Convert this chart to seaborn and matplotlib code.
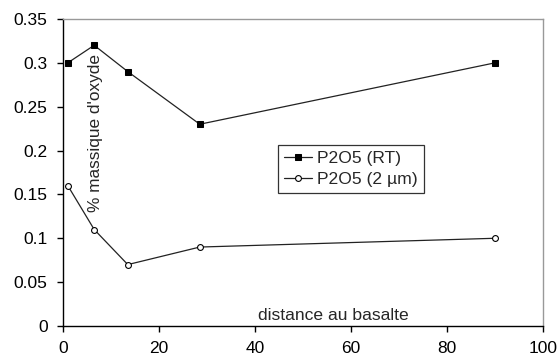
import matplotlib
matplotlib.use("Agg")
import matplotlib.pyplot as plt
import seaborn as sns
import pandas as pd

# distances and oxide values
distance = [1, 6.5, 13.5, 28.5, 90]
p2o5_rt = [0.30, 0.32, 0.29, 0.23, 0.30]
p2o5_2um = [0.16, 0.11, 0.07, 0.09, 0.10]
series_names = ["P2O5 (RT)", "P2O5 (2 µm)"]
x_ticks = [0, 20, 40, 60, 80, 100]
y_ticks = [0, 0.05, 0.1, 0.15, 0.2, 0.25, 0.3, 0.35]
y_tick_labels = ["0", "0.05", "0.1", "0.15", "0.2", "0.25", "0.3", "0.35"]


def main():
    sns.set_style("white")
    plt.rcParams["font.family"] = ["Liberation Sans", "DejaVu Sans"]

    data = pd.DataFrame({
        "distance": distance * 2,
        "value": p2o5_rt + p2o5_2um,
        "serie": [series_names[0]] * len(distance) + [series_names[1]] * len(distance),
    })

    fig = plt.figure(figsize=(5.6, 3.58), dpi=100)
    ax = fig.add_axes([0.1125, 0.0894, 0.8571, 0.8576])

    # filled squares for RT
    sns.lineplot(data=data[data.serie == series_names[0]], x="distance", y="value",
                 ax=ax, color="#222222", lw=0.9, marker="s", markersize=4,
                 markerfacecolor="black", markeredgecolor="black", label=series_names[0])
    # open circles for 2 um
    sns.lineplot(data=data[data.serie == series_names[1]], x="distance", y="value",
                 ax=ax, color="#222222", lw=0.9, marker="o", markersize=4.2,
                 markerfacecolor="white", markeredgecolor="black", markeredgewidth=0.8,
                 label=series_names[1])

    ax.set_xlim(0, 100)
    ax.set_ylim(0, 0.35)
    ax.set_xticks(x_ticks)
    ax.set_yticks(y_ticks)
    ax.set_yticklabels(y_tick_labels)
    ax.tick_params(axis="both", direction="out", length=4, width=1, labelsize=12.5,
                   colors="black", left=True, bottom=True)
    ax.tick_params(axis="y", pad=7)
    ax.tick_params(axis="x", pad=7)

    for s in ["top", "right"]:
        ax.spines[s].set_color("#999999")
        ax.spines[s].set_linewidth(1)
    for s in ["left", "bottom"]:
        ax.spines[s].set_color("black")
        ax.spines[s].set_linewidth(1)

    ax.set_xlabel("")
    ax.set_ylabel("")
    # axis titles sit inside the plot
    ax.text(0.067, 0.63, "% massique d'oxyde", transform=ax.transAxes, rotation=90,
            ha="center", va="center", fontsize=12.4)
    ax.text(0.5625, 0.01, "distance au basalte", transform=ax.transAxes,
            ha="center", va="bottom", fontsize=12.6)

    leg = ax.legend(loc="upper left", bbox_to_anchor=(0.448, 0.59), frameon=True,
                    fancybox=False, edgecolor="black", fontsize=12.6,
                    handlelength=1.6, handletextpad=0.3, borderpad=0.35,
                    labelspacing=0.3, borderaxespad=0)
    leg.get_frame().set_linewidth(0.9)

    fig.savefig("out.png", dpi=100, facecolor="white")


if __name__ == "__main__":
    main()
